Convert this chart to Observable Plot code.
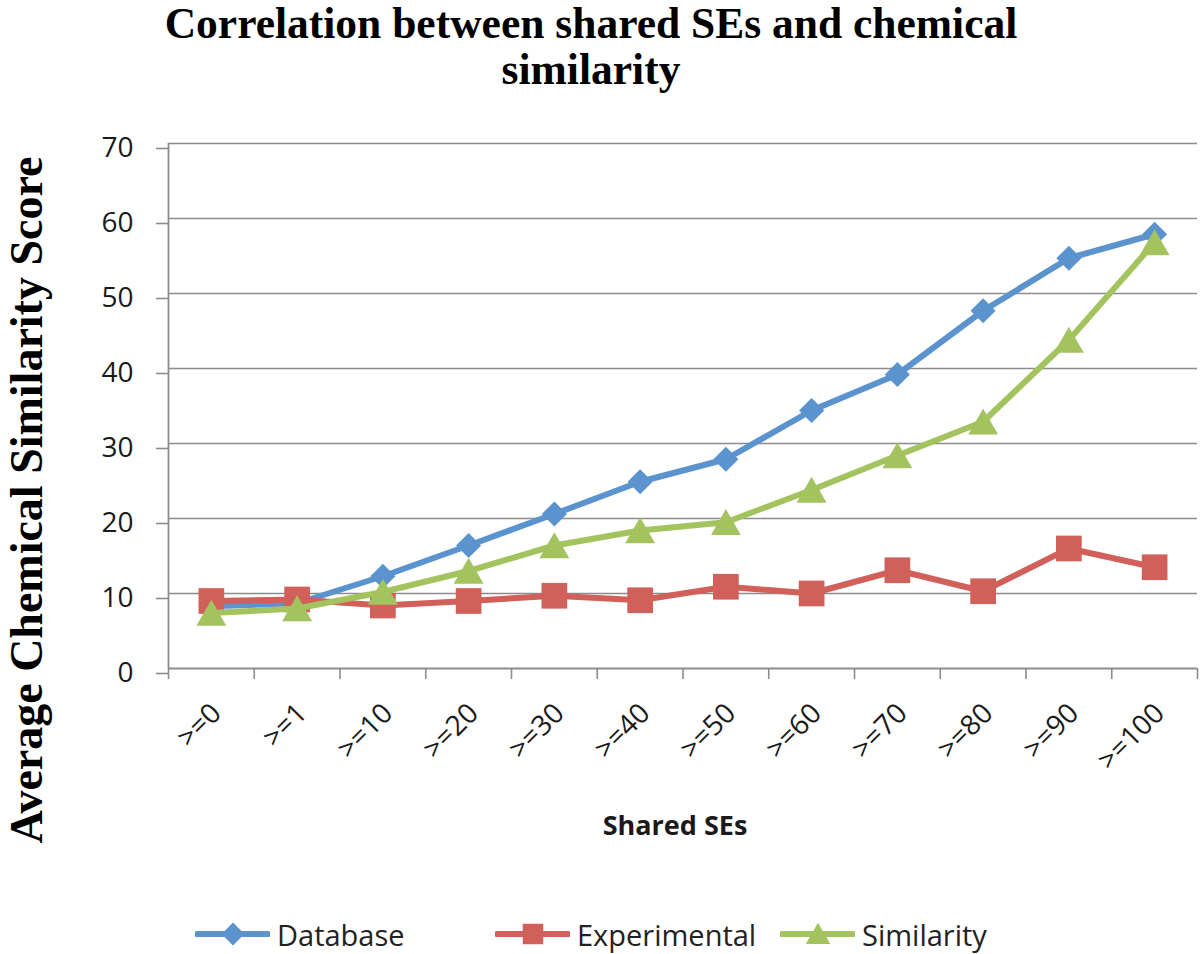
<!DOCTYPE html>
<html><head><meta charset="utf-8">
<script src="https://cdn.jsdelivr.net/npm/d3@7"></script>
<script src="https://cdn.jsdelivr.net/npm/@observablehq/plot@0.6"></script>
<style>
body{margin:0;background:#fff;}
#wrap{position:relative;width:1200px;height:954px;overflow:hidden;}
#title{height:110px;width:1182px;text-align:center;font-family:"Liberation Serif","Times New Roman",serif;font-weight:bold;font-size:43.5px;line-height:46px;color:#000;}
#legend{position:relative;height:60px;font-family:"Open Sans",sans-serif;font-size:29px;color:#222;}
.item{position:absolute;top:20px;height:40px;display:flex;align-items:center;}
.item svg{display:block;margin-right:7px;}
</style></head>
<body><div id="wrap">
<div id="title">Correlation between shared SEs and chemical<br>similarity</div>
<div id="chart"></div>
<div id="legend"></div>
</div>
<script>
const categories = [">=0", ">=1", ">=10", ">=20", ">=30", ">=40", ">=50", ">=60", ">=70", ">=80", ">=90", ">=100"];
const seriesNames = ["Database", "Experimental", "Similarity"];
const database = [8.3, 8.7, 12.3, 16.4, 20.6, 24.9, 27.9, 34.4, 39.2, 47.7, 54.7, 57.9];
const experimental = [9.0, 9.2, 8.4, 9.0, 9.7, 9.1, 10.9, 10.0, 13.1, 10.3, 16.0, 13.5];
const similarity = [7.4, 8.0, 10.2, 13.0, 16.4, 18.4, 19.5, 23.8, 28.4, 32.9, 43.8, 56.8];
const yTicks = [0, 10, 20, 30, 40, 50, 60, 70];

const colors = ["#5B93CE", "#D1605A", "#A3C35F"];
const symbols = ["diamond2", "square", "triangle"];
const radii = [11.3, 14.5, 11.1];
const symbolDy = [0, 0, 4];
const gray = "#8c8c8c";

const seriesValues = [database, experimental, similarity];
const rows = [];
seriesNames.forEach((s, k) => seriesValues[k].forEach((v, i) => rows.push({series: s, i, cat: categories[i], value: v})));
const idx = categories.map((c, i) => i);
const bounds = d3.range(categories.length + 1).map(i => i - 0.5);

const marks = [
  Plot.ruleY(yTicks.filter(t => t > 0), {stroke: gray, strokeWidth: 1.6}),
  Plot.axisY({ticks: yTicks, tickSize: 12, tickPadding: 23, stroke: gray, strokeWidth: 1.6, fill: "#1a1a1a", dy: 5, label: null}),
  Plot.axisX({ticks: bounds, tickSize: 11, stroke: gray, strokeWidth: 1.6, tickFormat: () => "", label: null}),
  Plot.axisX({ticks: idx, tickSize: 0, tickPadding: 40, tickRotate: -45, textAnchor: "end", lineAnchor: "middle", dx: 5, fill: "#1a1a1a", tickFormat: i => categories[i], label: null}),
  Plot.ruleY([0], {stroke: gray, strokeWidth: 1.8}),
  Plot.ruleX([-0.5], {y1: 0, y2: 70, stroke: gray, strokeWidth: 1.8}),
];
seriesNames.forEach((s, k) => {
  const data = rows.filter(d => d.series === s);
  marks.push(Plot.line(data, {x: "i", y: "value", stroke: colors[k], strokeWidth: 6, strokeLinejoin: "round"}));
  marks.push(Plot.dot(data, {x: "i", y: "value", symbol: symbols[k], r: radii[k], fill: colors[k], dy: symbolDy[k]}));
});
marks.push(Plot.text(["Average Chemical Similarity Score"], {text: d => d, frameAnchor: "left", textAnchor: "middle", rotate: -90, dx: -141, dy: 94, fontFamily: "'Liberation Serif','Times New Roman',serif", fontWeight: "bold", fontSize: 46, fill: "#000"}));
marks.push(Plot.text(["Shared SEs"], {text: d => d, frameAnchor: "bottom", dx: -8, dy: 166, fontWeight: "bold", fontSize: 27, fill: "#1a1a1a"}));

const chart = Plot.plot({
  width: 1200, height: 784,
  marginTop: 33, marginBottom: 226, marginLeft: 168, marginRight: 3,
  x: {type: "linear", domain: [-0.5, categories.length - 0.5]},
  y: {domain: [0, 70]},
  style: {fontFamily: "'Open Sans', sans-serif", fontSize: "28px", background: "#fff", color: "#1a1a1a", overflow: "visible"},
  marks
});
document.getElementById("chart").appendChild(chart);

// legend
const legend = document.getElementById("legend");
const lefts = [195, 495, 780];
seriesNames.forEach((s, k) => {
  const item = document.createElement("div");
  item.className = "item";
  item.style.left = lefts[k] + "px";
  const ns = "http://www.w3.org/2000/svg";
  const sv = document.createElementNS(ns, "svg");
  sv.setAttribute("width", 75); sv.setAttribute("height", 30);
  const ln = document.createElementNS(ns, "line");
  ln.setAttribute("x1", 2); ln.setAttribute("x2", 73); ln.setAttribute("y1", 15); ln.setAttribute("y2", 15);
  ln.setAttribute("stroke", colors[k]); ln.setAttribute("stroke-width", 6); ln.setAttribute("stroke-linecap", "round");
  sv.appendChild(ln);
  const sym = [d3.symbolDiamond2, d3.symbolSquare, d3.symbolTriangle][k];
  const p = document.createElementNS(ns, "path");
  const size = [330, 420, 260][k];
  p.setAttribute("d", d3.symbol(sym, size)());
  p.setAttribute("transform", `translate(38,${k === 2 ? 18 : 15})`);
  p.setAttribute("fill", colors[k]);
  sv.appendChild(p);
  item.appendChild(sv);
  const t = document.createElement("span");
  t.textContent = s;
  item.appendChild(t);
  legend.appendChild(item);
});
</script>
</body></html>
